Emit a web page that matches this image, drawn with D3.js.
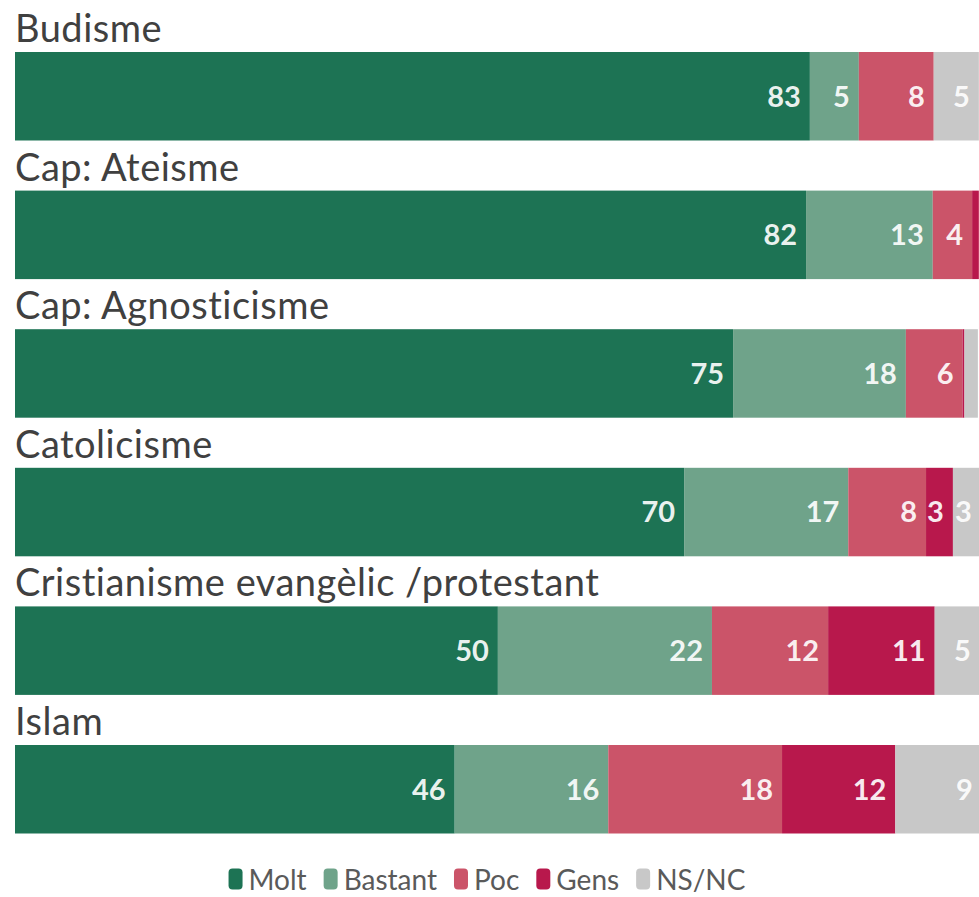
<!DOCTYPE html>
<html>
<head>
<meta charset="utf-8">
<script src="https://cdn.jsdelivr.net/npm/d3@7"></script>
<style>
  html, body { margin: 0; padding: 0; background: #ffffff; }
  svg { display: block; }
</style>
</head>
<body>
<svg id="chart" width="979" height="897"></svg>
<script>
// ---- data ----
const categories = ["Budisme", "Cap: Ateisme", "Cap: Agnosticisme", "Catolicisme", "Cristianisme evangèlic /protestant", "Islam"];
const seriesNames = ["Molt", "Bastant", "Poc", "Gens", "NS/NC"];
const molt    = [82.8, 82.4, 74.8, 69.7, 50.3, 45.8];
const bastant = [5.1, 13.2, 18.0, 17.1, 22.3, 16.0];
const poc     = [7.8, 4.1, 5.9, 8.1, 12.1, 18.1];
const gens    = [0, 0.7, 0.2, 2.8, 11.1, 11.8];
const nsnc    = [4.7, 0, 1.4, 2.9, 4.7, 9.0];
const colors  = ["#1d7354", "#6fa38a", "#cb5469", "#b8184c", "#c8c8c8"];

const seriesValues = [molt, bastant, poc, gens, nsnc];
const rows = categories.map((c, i) => {
  const o = { category: c };
  seriesNames.forEach((s, j) => { o[s] = seriesValues[j][i]; });
  return o;
});
const stacked = d3.stack().keys(seriesNames)(rows);

const svg = d3.select("#chart");
const x = d3.scaleLinear().domain([0, 100]).range([15, 975]);
const y = d3.scaleBand().domain(categories).range([52, 833.5]).paddingInner(0.3615).paddingOuter(0);
const color = d3.scaleOrdinal().domain(seriesNames).range(colors);

const FONT = "Lato, 'Source Sans Pro', 'Noto Sans', sans-serif";

// category labels
svg.append("g").selectAll("text").data(categories).join("text")
  .attr("x", 15)
  .attr("y", d => y(d) - 10)
  .attr("font-family", FONT)
  .attr("font-size", 38)
  .attr("letter-spacing", 0.5)
  .attr("fill", "#404040")
  .text(d => d);

// bars
const layers = svg.append("g").selectAll("g").data(stacked).join("g")
  .attr("fill", d => color(d.key));
layers.selectAll("rect").data(d => d).join("rect")
  .attr("x", d => x(d[0]))
  .attr("y", d => y(d.data.category))
  .attr("width", d => Math.max(0, x(d[1]) - x(d[0])))
  .attr("height", y.bandwidth());

// value labels
const labelLayers = svg.append("g").selectAll("g").data(stacked).join("g");
labelLayers.selectAll("text").data(d => d.filter(p => (p[1] - p[0]) >= 2.5)).join("text")
  .attr("x", d => x(d[1]) - 9)
  .attr("y", d => y(d.data.category) + y.bandwidth() / 2)
  .attr("dy", "0.36em")
  .attr("text-anchor", "end")
  .attr("font-family", FONT)
  .attr("font-weight", 700)
  .attr("font-size", 29)
  .attr("fill", "#ffffff")
  .attr("fill-opacity", 0.92)
  .text(d => Math.round(d[1] - d[0]));

// legend
const legend = svg.append("g");
const items = legend.selectAll("g").data(seriesNames).join("g");
items.append("rect")
  .attr("width", 14).attr("height", 21).attr("rx", 4).attr("ry", 4)
  .attr("y", -21 / 2 - 1)
  .attr("fill", d => color(d));
items.append("text")
  .attr("x", 20)
  .attr("dy", "0.34em")
  .attr("font-family", FONT)
  .attr("font-size", 28)
  .attr("fill", "#5a5a5a")
  .text(d => d);
let cx = 0;
const gapItem = 17;
items.each(function() {
  const g = d3.select(this);
  g.attr("transform", `translate(${cx},0)`);
  const w = 20 + g.select("text").node().getComputedTextLength();
  cx += w + gapItem;
});
const total = cx - gapItem;
legend.attr("transform", `translate(${487 - total / 2}, 880)`);
</script>
</body>
</html>
